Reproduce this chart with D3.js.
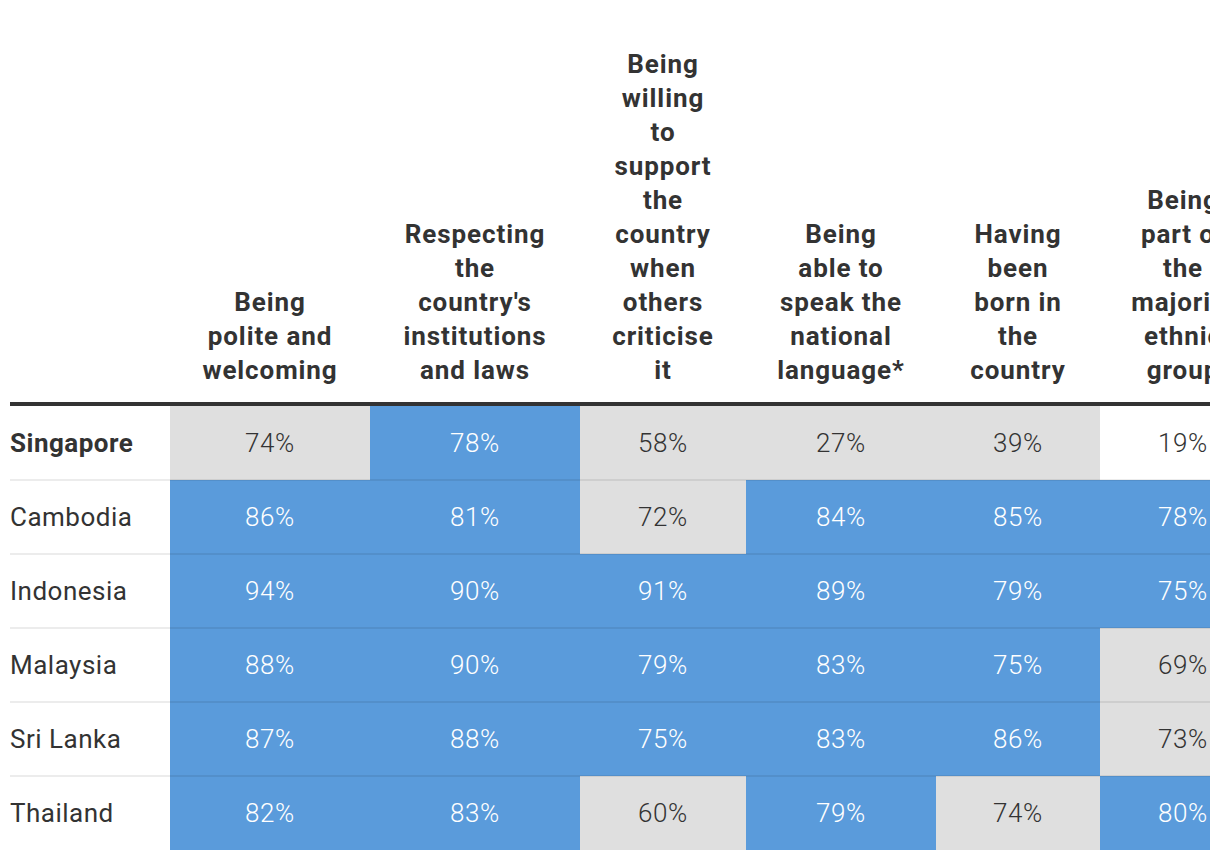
<!DOCTYPE html>
<html><head><meta charset="utf-8">
<script src="https://cdn.jsdelivr.net/npm/d3@7"></script>
<style>
html,body{margin:0;padding:0;background:#fff;}
svg{display:block;}
</style></head>
<body>
<script>
// ---- data ----
const countries = ["Singapore","Cambodia","Indonesia","Malaysia","Sri Lanka","Thailand"];
const headers = [
  ["Being","polite and","welcoming"],
  ["Respecting","the","country's","institutions","and laws"],
  ["Being","willing","to","support","the","country","when","others","criticise","it"],
  ["Being","able to","speak the","national","language*"],
  ["Having","been","born in","the","country"],
  ["Being","part of","the","majority","ethnic","group"]
];
const values = [
  [74,78,58,27,39,19],
  [86,81,72,84,85,78],
  [94,90,91,89,79,75],
  [88,90,79,83,75,69],
  [87,88,75,83,86,73],
  [82,83,60,79,74,80]
];
// cell shading category: 2 = blue, 1 = grey, 0 = white
const shade = [
  [1,2,1,1,1,0],
  [2,2,1,2,2,2],
  [2,2,2,2,2,2],
  [2,2,2,2,2,1],
  [2,2,2,2,2,1],
  [2,2,1,2,1,2]
];

// ---- layout ----
const W = 1210, H = 860;
const left = 10, labelW = 160;
const colW = [200,210,166,190,164,166];
const headerBottom = 402, ruleH = 4, rowH = 74;
const lineH = 34;

const svg = d3.select("body").append("svg").attr("width", W).attr("height", H);

const colStarts = colW.map((w,i)=> left + labelW + d3.sum(colW.slice(0,i)));
const x = d3.scaleOrdinal().domain(d3.range(colW.length)).range(colStarts);
const y = d3.scaleBand().domain(countries).range([headerBottom+ruleH, headerBottom+ruleH+rowH*countries.length]).padding(0);
const fill = d3.scaleOrdinal().domain([0,1,2]).range(["#ffffff","#dfdfdf","#5a9bdb"]);
const txt = d3.scaleOrdinal().domain([0,1,2]).range(["#333333","#333333","#ffffff"]);

// headers
headers.forEach((lines,i)=>{
  const cx = x(i) + colW[i]/2;
  const n = lines.length;
  svg.append("g").selectAll("text").data(lines).join("text")
    .attr("x", cx)
    .attr("y", (d,k)=> 379 - (n-1-k)*lineH)
    .attr("text-anchor","middle")
    .attr("font-family","Roboto, 'Noto Sans', sans-serif")
    .attr("font-weight",700)
    .attr("font-size",26)
    .attr("letter-spacing",0.9)
    .attr("fill","#333")
    .text(d=>d);
});

// cells
const cells = [];
countries.forEach((c,r)=> values[r].forEach((v,j)=> cells.push({c,r,j,v,s:shade[r][j]})));
svg.append("g").selectAll("rect").data(cells).join("rect")
  .attr("x", d=>x(d.j)).attr("y", d=>y(d.c))
  .attr("width", d=>colW[d.j]).attr("height", y.bandwidth())
  .attr("fill", d=>fill(d.s));

// row separators
svg.append("g").selectAll("line").data(countries.slice(1)).join("line")
  .attr("x1", left).attr("x2", W)
  .attr("y1", d=>y(d)).attr("y2", d=>y(d))
  .attr("stroke","rgba(0,0,0,0.075)").attr("stroke-width",2);

// values
svg.append("g").selectAll("text").data(cells).join("text")
  .attr("x", d=>x(d.j)+colW[d.j]/2)
  .attr("y", d=>y(d.c)+y.bandwidth()/2+9)
  .attr("text-anchor","middle")
  .attr("font-family","Roboto, 'Noto Sans', sans-serif")
  .attr("font-weight",300)
  .attr("font-size",26)
  .attr("letter-spacing",0.6)
  .attr("fill", d=>txt(d.s))
  .text(d=>d.v+"%");

// row labels
svg.append("g").selectAll("text").data(countries).join("text")
  .attr("x", left)
  .attr("y", d=>y(d)+y.bandwidth()/2+9)
  .attr("font-family","Roboto, 'Noto Sans', sans-serif")
  .attr("font-weight", d=> d==="Singapore"?700:400)
  .attr("font-size",26)
  .attr("letter-spacing",0.5)
  .attr("fill","#333")
  .text(d=>d);

// header rule
svg.append("rect").attr("x",left).attr("y",headerBottom).attr("width",W-left).attr("height",ruleH).attr("fill","#333");
</script>
</body></html>
